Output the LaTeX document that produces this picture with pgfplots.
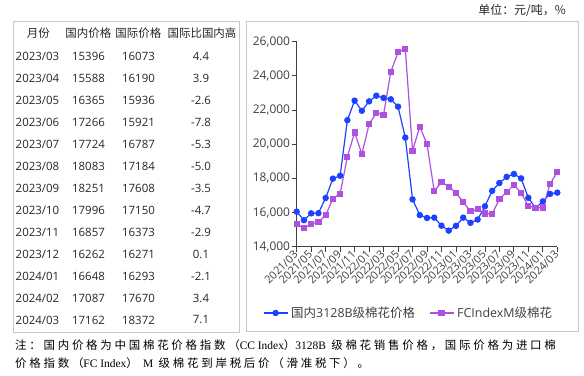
\documentclass[border=0pt]{standalone}
\usepackage{pgfplots}
\pgfplotsset{compat=1.18}
\usepackage{fontspec}
\setmainfont{Open Sans}
\newfontfamily\cjk{Noto Sans CJK SC}
\newfontfamily\cjknote[LetterSpace=24]{Noto Sans CJK SC}
\newfontfamily\sernote{Liberation Serif}
\definecolor{bl}{RGB}{30,64,255}
\definecolor{pu}{RGB}{176,80,224}
\definecolor{fr}{RGB}{200,200,200}
\definecolor{tx}{RGB}{64,64,64}
\definecolor{tb}{RGB}{38,38,38}
\begin{document}
\begin{tikzpicture}[x=1bp,y=1bp]
\path[use as bounding box] (0,0) rectangle (584,375);
% panels
\draw[fr,line width=0.8bp] (13.3,375-21.3) rectangle (239.3,375-332.7);
\draw[fr,line width=0.8bp] (246.7,375-21.3) rectangle (578,375-331.7);
% unit
\node[anchor=east,inner sep=0,font=\cjk\fontsize{12}{14}\selectfont,text=tb] at (566,375-11) {单位：元/吨，\%};
% table header
\begin{scope}[every node/.style={inner sep=0,text=tb,font=\cjk\fontsize{11.5}{13}\selectfont}]
\node at (38.3,375-33.5) {月份};
\node at (88.3,375-33.5) {国内价格};
\node at (138.3,375-33.5) {国际价格};
\node at (202,375-33.5) {国际比国内高};
\end{scope}
\foreach \yy/\mm/\a/\b/\c [count=\i from 0] in {
2023/03/15396/16073/4.4,
2023/04/15588/16190/3.9,
2023/05/16365/15936/-2.6,
2023/06/17266/15921/-7.8,
2023/07/17724/16787/-5.3,
2023/08/18083/17184/-5.0,
2023/09/18251/17608/-3.5,
2023/10/17996/17150/-4.7,
2023/11/16857/16373/-2.9,
2023/12/16262/16271/0.1,
2024/01/16648/16293/-2.1,
2024/02/17087/17670/3.4,
2024/03/17162/18372/7.1}{
\pgfmathsetmacro{\ry}{375-(56.7+21.94*\i)}
\node[anchor=west,inner sep=0,text=tb,font=\fontsize{11.5}{13}\selectfont] at (15.5,\ry) {\yy/\mm};
\node[inner sep=0,text=tb,font=\fontsize{11.5}{13}\selectfont] at (88.5,\ry) {\a};
\node[inner sep=0,text=tb,font=\fontsize{11.5}{13}\selectfont] at (138.5,\ry) {\b};
\node[inner sep=0,text=tb,font=\fontsize{11.5}{13}\selectfont] at (201,\ry) {\c};
}
% footnote
\node[anchor=west,inner sep=0,text=black] at (15,375-345) {\cjknote\fontsize{11.5}{13}\selectfont 注：国内价格为中国棉花价格指数（{\sernote CC Index}）{\sernote 3128B} 级棉花销售价格，国际价格为进口棉};
\node[anchor=west,inner sep=0,text=black] at (15,375-363) {\cjknote\fontsize{11.5}{13}\selectfont 价格指数（{\sernote FC Index}） {\sernote M} 级棉花到岸税后价（滑准税下）。};
\begin{axis}[
  at={(296.7bp,128.3bp)}, anchor=south west,
  scale only axis, width=260.6bp, height=205.2bp,
  xmin=0, xmax=36, ymin=14000, ymax=26000,
  axis x line=bottom, axis y line=left,
  axis line style={-, tx, line width=0.8bp},
  tick align=outside, major tick length=5bp,
  tick style={tx, line width=0.8bp},
  xtick={0,2,...,36},
  xticklabels={2021/03,2021/05,2021/07,2021/09,2021/11,2022/01,2022/03,2022/05,2022/07,2022/09,2022/11,2023/01,2023/03,2023/05,2023/07,2023/09,2023/11,2024/01,2024/03},
  xticklabel style={rotate=45, anchor=east, inner sep=1bp, text=tx, font=\fontsize{11}{12}\selectfont},
  ytick={14000,16000,...,26000},
  scaled y ticks=false,
  yticklabel style={/pgf/number format/fixed, /pgf/number format/1000 sep={,}, /pgf/number format/assume math mode=true, text=tx, inner sep=1.5bp, font=\fontsize{12}{13}\selectfont},
  clip=false,
  legend columns=2,
  legend style={at={(-0.13,-0.323)}, anchor=west, draw=none, fill=none, font=\fontsize{12.5}{14}\selectfont, text=tx, /tikz/every even column/.append style={column sep=11bp}, inner sep=0pt, nodes={inner sep=3bp}},
  legend image code/.code={\draw[mark repeat=2,mark phase=2] plot coordinates {(0bp,0bp) (12bp,0bp) (24bp,0bp)};},
]
\addplot[bl, line width=1.2bp, mark=*, mark size=2.6bp, mark options={solid,fill=bl,draw=bl}] coordinates {
(0,16050)(1,15550)(2,15950)(3,15960)(4,16850)(5,17980)(6,18150)(7,21400)(8,22540)(9,21950)
(10,22500)(11,22830)(12,22700)(13,22620)(14,22190)(15,20380)(16,16770)(17,15850)(18,15680)(19,15700)
(20,15230)(21,14940)(22,15220)(23,15700)(24,15396)(25,15588)(26,16365)(27,17266)(28,17724)(29,18083)
(30,18251)(31,17996)(32,16857)(33,16262)(34,16648)(35,17087)(36,17162)};
\addlegendentry{{\cjk 国内}3128B{\cjk 级棉花价格}}
\addplot[pu, line width=1.2bp, mark=square*, mark size=2.5bp, mark options={solid,fill=pu,draw=pu}] coordinates {
(0,15310)(1,15090)(2,15330)(3,15440)(4,15840)(5,16810)(6,17100)(7,19260)(8,20680)(9,19420)
(10,21160)(11,21820)(12,21720)(13,24230)(14,25370)(15,25580)(16,19610)(17,21020)(18,20000)(19,17240)
(20,17780)(21,17510)(22,17160)(23,16610)(24,16073)(25,16190)(26,15936)(27,15921)(28,16787)(29,17184)
(30,17608)(31,17150)(32,16373)(33,16271)(34,16293)(35,17670)(36,18372)};
\addlegendentry{FCIndexM{\cjk 级棉花}}
\end{axis}
\end{tikzpicture}
\end{document}
